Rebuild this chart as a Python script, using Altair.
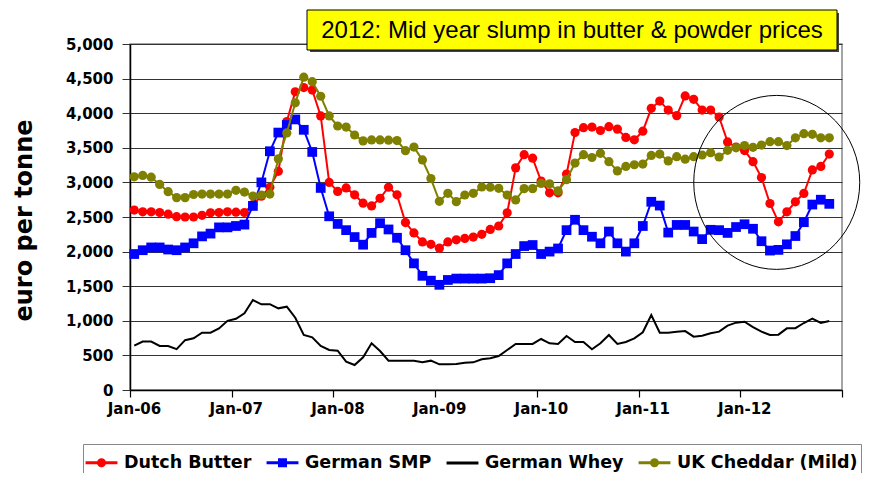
import altair as alt
import pandas as pd

# ---------------- data ----------------
months = [f"{2006 + i // 12}-{i % 12 + 1:02d}" for i in range(83)]  # Jan-06 .. Nov-12
tick_labels = ["Jan-06", "Jan-07", "Jan-08", "Jan-09", "Jan-10", "Jan-11", "Jan-12"]

series_names = ["Dutch Butter", "German SMP", "German Whey", "UK Cheddar (Mild)"]
series_colors = ["#FF0000", "#0000FF", "#000000", "#808000"]

dutch_butter = [2600, 2575, 2575, 2565, 2540, 2505, 2500, 2500, 2525, 2560, 2565, 2575,
                2570, 2565, 2680, 2800, 2930, 3160, 3880, 4310, 4370, 4335, 3960, 3000,
                2870, 2920, 2820, 2700, 2660, 2770, 2930, 2820, 2420, 2270, 2140, 2105,
                2050, 2140, 2170, 2190, 2210, 2250, 2320, 2370, 2560, 3210, 3400, 3350,
                3020, 2850, 2850, 3120, 3720, 3790, 3800, 3750, 3805, 3770, 3650, 3615,
                3740, 4070, 4175, 4045, 3965, 4250, 4200, 4045, 4045, 3945, 3585, 3510,
                3460, 3300, 3070, 2695, 2430, 2575, 2720, 2840, 3180, 3230, 3410]

german_smp = [1965, 2020, 2060, 2060, 2030, 2020, 2060, 2120, 2220, 2260, 2350, 2350,
              2370, 2390, 2660, 3000, 3450, 3720, 3830, 3910, 3760, 3440, 2920, 2510,
              2400, 2310, 2210, 2100, 2270, 2410, 2320, 2200, 2020, 1830, 1650, 1580,
              1520, 1590, 1610, 1610, 1610, 1610, 1615, 1660, 1830, 1965, 2080, 2095,
              1965, 2000, 2045, 2310, 2460, 2310, 2215, 2120, 2290, 2120, 2000, 2120,
              2370, 2720, 2665, 2275, 2385, 2385, 2290, 2180, 2315, 2310, 2270, 2355,
              2395, 2330, 2150, 2015, 2025, 2105, 2225, 2425, 2680, 2750, 2690]

german_whey = [640, 700, 700, 636, 636, 590, 720, 747, 828, 828, 890, 1000,
               1030, 1108, 1300, 1238, 1240, 1180, 1204, 1045, 795, 761, 636, 578,
               568, 409, 361, 472, 675, 563, 424, 424, 424, 424, 400, 424,
               371, 371, 375, 395, 400, 443, 458, 491, 578, 665, 665, 665,
               737, 675, 665, 780, 694, 694, 588, 675, 795, 665, 694, 747,
               834, 1084, 828, 828, 843, 852, 771, 785, 819, 843, 930, 973,
               987, 910, 843, 795, 800, 891, 894, 968, 1030, 968, 997]

uk_cheddar = [3080, 3100, 3075, 2970, 2866, 2780, 2780, 2825, 2832, 2832, 2832, 2832,
              2885, 2860, 2803, 2818, 2832, 3340, 3715, 4150, 4520, 4455, 4245, 3960,
              3815, 3800, 3685, 3600, 3613, 3613, 3610, 3605, 3458, 3510, 3324, 3055,
              2727, 2842, 2722, 2818, 2842, 2935, 2930, 2914, 2818, 2746, 2910, 2910,
              2986, 2980, 2876, 3040, 3280, 3400, 3360, 3420, 3300, 3165, 3230, 3255,
              3265, 3390, 3410, 3310, 3372, 3336, 3372, 3396, 3430, 3367, 3463, 3500,
              3533, 3507, 3540, 3589, 3589, 3533, 3644, 3704, 3695, 3644, 3644]

annotation_text = "2012: Mid year slump in butter & powder prices"
highlight_center = {"idx": 75.8, "value": 3000}

# ---------------- build table ----------------
series_values = [dutch_butter, german_smp, german_whey, uk_cheddar]
rows = []
for name, vals in zip(series_names, series_values):
    for i, (m, v) in enumerate(zip(months, vals)):
        rows.append({"month": m, "idx": i, "series": name, "value": v})
df = pd.DataFrame(rows)

FONT = "DejaVu Sans"

label_array = "[" + ",".join(f"'{t}'" for t in tick_labels) + "]"
x_enc = alt.X(
    "idx:Q",
    scale=alt.Scale(domain=[-0.5, 83.5], nice=False, zero=False),
    axis=alt.Axis(
        values=[-0.5 + 12 * k for k in range(8)],
        labelExpr=label_array + "[round((datum.value + 0.5) / 12)] || ''",
        labelOffset=4, labelFlush=False, labelOverlap=False,
        grid=False, tickSize=7, tickColor="black", tickWidth=1.2,
        domainColor="black", domainWidth=1.5,
        labelFont=FONT, labelFontSize=15, labelFontWeight="bold",
        labelColor="black", labelPadding=4, title=None,
    ),
)
y_enc = alt.Y(
    "value:Q",
    scale=alt.Scale(domain=[0, 5000], nice=False),
    axis=alt.Axis(
        values=list(range(0, 5001, 500)), format=",.0f",
        grid=True, gridColor="#333333", gridWidth=1,
        tickSize=8, tickColor="#333333", tickWidth=1,
        domainColor="black", domainWidth=1.5,
        labelFont=FONT, labelFontSize=15, labelFontWeight="bold",
        labelColor="black", labelPadding=9, labelFlush=False,
        title="euro per tonne", titleFont=FONT, titleFontSize=24,
        titleFontWeight="bold", titleColor="black",
        titleX=-106, titleY=176, titleAlign="center",
        titleBaseline="middle", titleAngle=270,
    ),
)

marker_shape = {"Dutch Butter": ("circle", 85), "German SMP": ("square", 95),
                "UK Cheddar (Mild)": ("circle", 85)}

layers = []
for name, col in zip(series_names, series_colors):
    sub = df[df["series"] == name]
    base = alt.Chart(sub)
    layers.append(base.mark_line(color=col, strokeWidth=2).encode(x=x_enc, y=y_enc))
    if name in marker_shape:
        shp, sz = marker_shape[name]
        layers.append(base.mark_point(shape=shp, size=sz, filled=True, color=col,
                                      opacity=1, strokeWidth=0).encode(x=x_enc, y=y_enc))

# legend layer (points outside the plotted range are clipped; only the legend shows)
# unit = 14 px (symbol size 784)
u_line = "M-1.14,0H1.14"
circ = ("M-0.214,0A0.214,0.214 0 1,0 0.214,0A0.214,0.214 0 1,0 -0.214,0"
        "M-0.107,0A0.107,0.107 0 1,0 0.107,0A0.107,0.107 0 1,0 -0.107,0")
sq = "M-0.214,-0.214H0.214V0.214H-0.214ZM-0.107,-0.107H0.107V0.107H-0.107Z"
legend_paths = [u_line + circ, u_line + sq, u_line, u_line + circ]
leg_df = pd.DataFrame({"series": series_names, "idx": [40] * 4, "value": [-2000] * 4})
legend_layer = alt.Chart(leg_df).mark_point(clip=True, filled=False, opacity=1,
                                              strokeWidth=3).encode(
    x=x_enc, y=y_enc,
    color=alt.Color("series:N", scale=alt.Scale(domain=series_names, range=series_colors),
                    legend=alt.Legend(title=None)),
    shape=alt.Shape("series:N", scale=alt.Scale(domain=series_names, range=legend_paths),
                    legend=alt.Legend(title=None)),
)

# highlight ellipse
ellipse_path = "M-0.954,0A0.954,1 0 1,0 0.954,0A0.954,1 0 1,0 -0.954,0"
ellipse = alt.Chart(alt.Data(values=[highlight_center])).mark_point(
    shape=ellipse_path, size=30276, filled=False, stroke="black", strokeWidth=1, opacity=1
).encode(x=x_enc, y=y_enc)

# annotation box
blank = alt.Data(values=[{}])
shadow = alt.Chart(blank).mark_rect(color="#444444").encode(
    x=alt.value(180), x2=alt.value(709), y=alt.value(-31), y2=alt.value(8))
box = alt.Chart(blank).mark_rect(fill="#FFFF00", stroke="black", strokeWidth=1).encode(
    x=alt.value(177), x2=alt.value(707), y=alt.value(-34), y2=alt.value(6))
box_text = alt.Chart(blank).mark_text(
    text=annotation_text, font="Liberation Sans", fontSize=24, color="black",
    align="center", baseline="middle").encode(x=alt.value(442), y=alt.value(-13))

chart = alt.layer(*layers, legend_layer, ellipse, shadow, box, box_text).properties(
    width=712, height=346,
    autosize=alt.AutoSizeParams(type="none"),
    padding={"left": 122, "top": 36, "right": 22, "bottom": 83},
).configure_view(
    stroke="#888888", strokeWidth=1.5
).configure_legend(
    orient="none", legendX=-47, legendY=400, direction="horizontal",
    strokeColor="#888888", fillColor="white", padding=3,
    symbolSize=784, symbolStrokeWidth=3, symbolOpacity=1,
    labelFont=FONT, labelFontSize=17.5, labelFontWeight="bold", labelColor="black",
    labelOffset=7, columnPadding=8, labelLimit=400,
)

chart.save("out.html", embed_options={"renderer": "svg", "actions": False})
